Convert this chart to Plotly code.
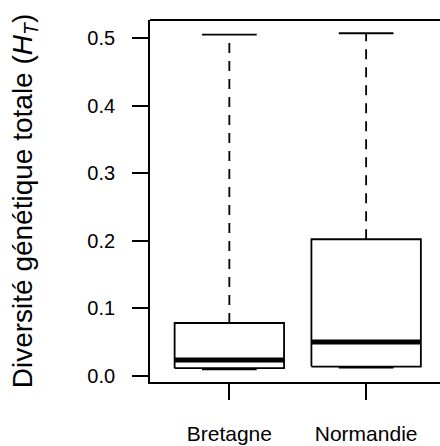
"""
Boxplot de la diversité génétique totale (H_T) par région
"""

# imports
from plotly.graph_objects import Scatter, Figure

# données
regions = ["Bretagne", "Normandie"]
positions = [1, 2]
lower = [0.010, 0.0125]
q1 = [0.0115, 0.014]
median = [0.0237, 0.0504]
q3 = [0.0785, 0.2025]
upper = [0.5056, 0.5076]
yticks = [0.0, 0.1, 0.2, 0.3, 0.4, 0.5]

FONT = "Liberation Sans, Arial, Helvetica, sans-serif"
BOX_HW = 0.4      # demi-largeur de la boite
STAPLE_HW = 0.2   # demi-largeur des moustaches
LW = 1.8          # epaisseur des traits


def segments(x0, x1, y0, y1):
    """construit des segments separes par None"""
    xs, ys = [], []
    for a, b, c, d in zip(x0, x1, y0, y1):
        xs += [a, b, None]
        ys += [c, d, None]
    return xs, ys


def main():
    """construit et enregistre la figure"""
    fig = Figure()

    # moustaches en pointillés
    wx, wy = segments(positions + positions, positions + positions,
                      q3 + lower, upper + q1)
    fig.add_trace(Scatter(x=wx, y=wy, mode="lines",
                          line=dict(color="black", width=LW, dash="10px,8px")))

    # boites
    bx, by = [], []
    for p, a, b in zip(positions, q1, q3):
        bx += [p - BOX_HW, p + BOX_HW, p + BOX_HW, p - BOX_HW, p - BOX_HW, None]
        by += [a, a, b, b, a, None]
    fig.add_trace(Scatter(x=bx, y=by, mode="lines", fill="toself",
                          fillcolor="white",
                          line=dict(color="black", width=LW)))

    # médianes
    mx, my = segments([p - BOX_HW for p in positions],
                      [p + BOX_HW for p in positions], median, median)
    fig.add_trace(Scatter(x=mx, y=my, mode="lines",
                          line=dict(color="black", width=5)))

    # extrémités des moustaches
    sx, sy = segments([p - STAPLE_HW for p in positions] * 2,
                      [p + STAPLE_HW for p in positions] * 2,
                      upper + lower, upper + lower)
    fig.add_trace(Scatter(x=sx, y=sy, mode="lines",
                          line=dict(color="black", width=LW)))

    fig.update_layout(
        width=440, height=446,
        margin=dict(l=150, r=0, t=20, b=64),
        paper_bgcolor="white", plot_bgcolor="white",
        showlegend=False, hovermode=False,
        font=dict(family=FONT, color="black", size=20),
        xaxis=dict(range=[0.42, 2.54], tickvals=positions, ticktext=regions,
                   automargin=False,
                   showgrid=False, zeroline=False, showline=True,
                   linecolor="black", linewidth=LW,
                   ticks="outside", ticklen=16, tickwidth=LW,
                   tickcolor="black", ticklabelstandoff=16,
                   tickfont=dict(size=21)),
        yaxis=dict(range=[-0.0089, 0.5272], tickvals=yticks,
                   automargin=False,
                   tickformat=".1f", showgrid=False, zeroline=False,
                   showline=True, linecolor="black", linewidth=LW,
                   ticks="outside", ticklen=16, tickwidth=LW,
                   tickcolor="black", ticklabelstandoff=13,
                   tickfont=dict(size=20),
                   title=dict(text="Diversité génétique totale (<i>H</i><sub><i>T</i></sub>)",
                              font=dict(size=28), standoff=46)),
        shapes=[dict(type="line", xref="paper", yref="paper",
                     x0=0, x1=1, y0=1, y1=1,
                     line=dict(color="black", width=LW))],
    )

    # pas de marge de page ni de barres de défilement
    fig.write_html("out.html", config={"displayModeBar": False},
                   post_script="document.body.style.margin='0';"
                               "document.documentElement.style.overflow='hidden';"
                               "document.body.style.overflow='hidden';")


if __name__ == "__main__":
    main()
